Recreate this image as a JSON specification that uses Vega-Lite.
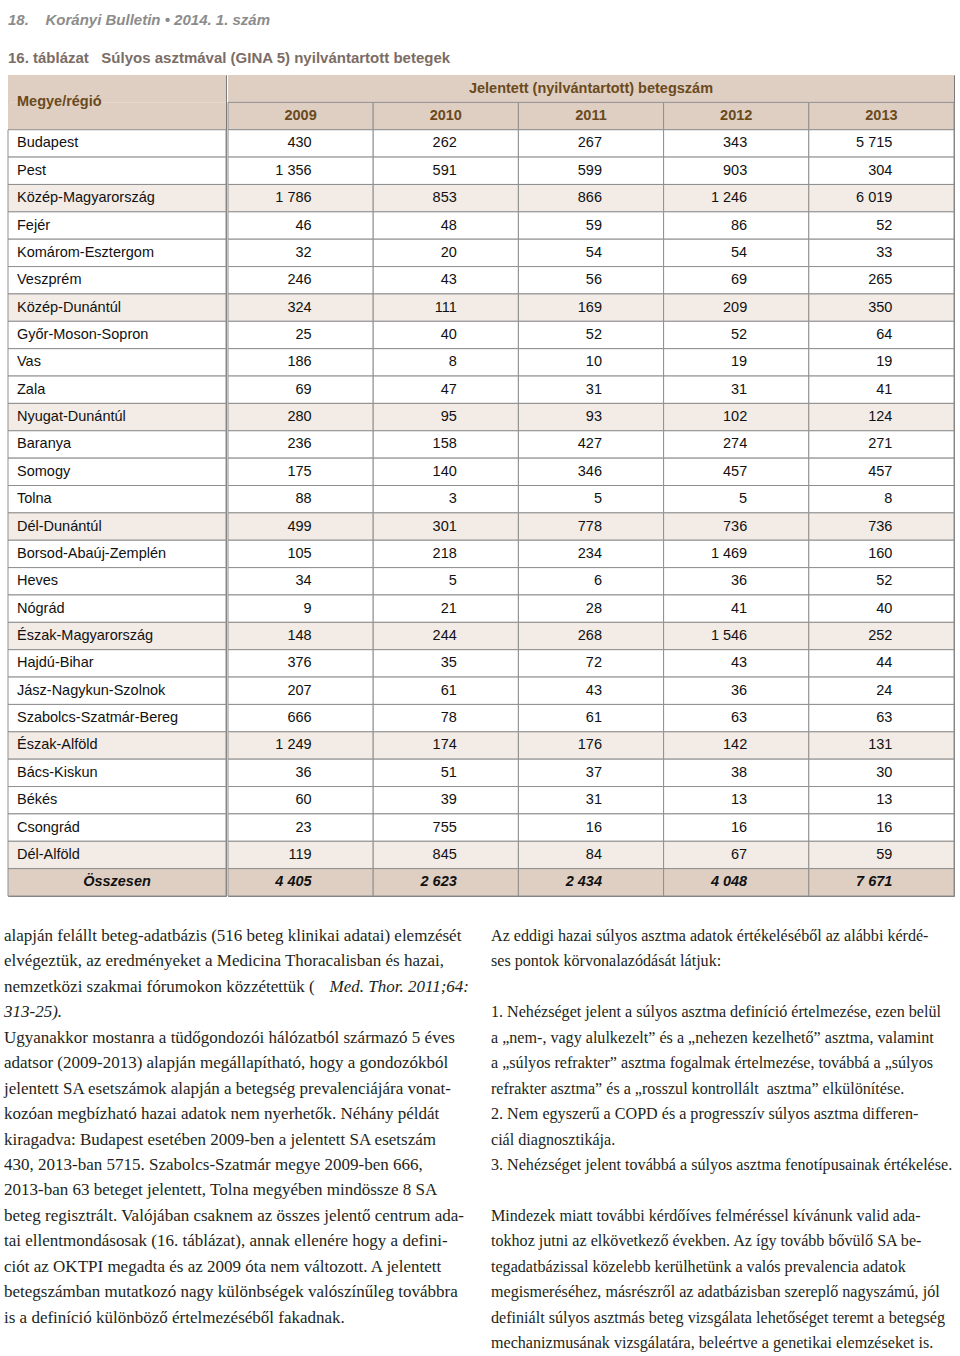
{
  "$schema": "https://vega.github.io/schema/vega-lite/v6.json",
  "autosize": "pad",
  "padding": {"left": 4, "top": 12, "right": 0, "bottom": 0},
  "background": "white",
  "title": {
    "text": "18.\u00a0\u00a0\u00a0\u00a0Korányi Bulletin • 2014. 1. szám",
    "subtitle": "16. táblázat\u00a0\u00a0\u00a0Súlyos asztmával (GINA 5) nyilvántartott betegek",
    "anchor": "start",
    "frame": "group",
    "font": "Liberation Sans",
    "fontSize": 15,
    "fontStyle": "italic",
    "fontWeight": "bold",
    "color": "#8c8c8c",
    "subtitleFont": "Liberation Sans",
    "subtitleFontSize": 15,
    "subtitleFontWeight": "bold",
    "subtitleColor": "#7b6d66",
    "subtitlePadding": 23,
    "offset": 9
  },
  "config": {
    "locale": {"number": {"decimal": ",", "thousands": " ", "grouping": [3], "currency": ["", ""]}},
    "view": {"stroke": "#7a7a7a", "strokeWidth": 1},
    "text": {"font": "Liberation Sans", "fontSize": 14.5, "color": "#111111", "baseline": "middle"}
  },
  "datasets": {
    "table": [
      {"row": "Budapest", "kind": "megye", "2009": 430, "2010": 262, "2011": 267, "2012": 343, "2013": 5715},
      {"row": "Pest", "kind": "megye", "2009": 1356, "2010": 591, "2011": 599, "2012": 903, "2013": 304},
      {"row": "Közép-Magyarország", "kind": "régió", "2009": 1786, "2010": 853, "2011": 866, "2012": 1246, "2013": 6019},
      {"row": "Fejér", "kind": "megye", "2009": 46, "2010": 48, "2011": 59, "2012": 86, "2013": 52},
      {"row": "Komárom-Esztergom", "kind": "megye", "2009": 32, "2010": 20, "2011": 54, "2012": 54, "2013": 33},
      {"row": "Veszprém", "kind": "megye", "2009": 246, "2010": 43, "2011": 56, "2012": 69, "2013": 265},
      {"row": "Közép-Dunántúl", "kind": "régió", "2009": 324, "2010": 111, "2011": 169, "2012": 209, "2013": 350},
      {"row": "Győr-Moson-Sopron", "kind": "megye", "2009": 25, "2010": 40, "2011": 52, "2012": 52, "2013": 64},
      {"row": "Vas", "kind": "megye", "2009": 186, "2010": 8, "2011": 10, "2012": 19, "2013": 19},
      {"row": "Zala", "kind": "megye", "2009": 69, "2010": 47, "2011": 31, "2012": 31, "2013": 41},
      {"row": "Nyugat-Dunántúl", "kind": "régió", "2009": 280, "2010": 95, "2011": 93, "2012": 102, "2013": 124},
      {"row": "Baranya", "kind": "megye", "2009": 236, "2010": 158, "2011": 427, "2012": 274, "2013": 271},
      {"row": "Somogy", "kind": "megye", "2009": 175, "2010": 140, "2011": 346, "2012": 457, "2013": 457},
      {"row": "Tolna", "kind": "megye", "2009": 88, "2010": 3, "2011": 5, "2012": 5, "2013": 8},
      {"row": "Dél-Dunántúl", "kind": "régió", "2009": 499, "2010": 301, "2011": 778, "2012": 736, "2013": 736},
      {"row": "Borsod-Abaúj-Zemplén", "kind": "megye", "2009": 105, "2010": 218, "2011": 234, "2012": 1469, "2013": 160},
      {"row": "Heves", "kind": "megye", "2009": 34, "2010": 5, "2011": 6, "2012": 36, "2013": 52},
      {"row": "Nógrád", "kind": "megye", "2009": 9, "2010": 21, "2011": 28, "2012": 41, "2013": 40},
      {"row": "Észak-Magyarország", "kind": "régió", "2009": 148, "2010": 244, "2011": 268, "2012": 1546, "2013": 252},
      {"row": "Hajdú-Bihar", "kind": "megye", "2009": 376, "2010": 35, "2011": 72, "2012": 43, "2013": 44},
      {"row": "Jász-Nagykun-Szolnok", "kind": "megye", "2009": 207, "2010": 61, "2011": 43, "2012": 36, "2013": 24},
      {"row": "Szabolcs-Szatmár-Bereg", "kind": "megye", "2009": 666, "2010": 78, "2011": 61, "2012": 63, "2013": 63},
      {"row": "Észak-Alföld", "kind": "régió", "2009": 1249, "2010": 174, "2011": 176, "2012": 142, "2013": 131},
      {"row": "Bács-Kiskun", "kind": "megye", "2009": 36, "2010": 51, "2011": 37, "2012": 38, "2013": 30},
      {"row": "Békés", "kind": "megye", "2009": 60, "2010": 39, "2011": 31, "2012": 13, "2013": 13},
      {"row": "Csongrád", "kind": "megye", "2009": 23, "2010": 755, "2011": 16, "2012": 16, "2013": 16},
      {"row": "Dél-Alföld", "kind": "régió", "2009": 119, "2010": 845, "2011": 84, "2012": 67, "2013": 59},
      {"row": "Összesen", "kind": "összesen", "2009": 4405, "2010": 2623, "2011": 2434, "2012": 4048, "2013": 7671}
    ],
    "lines": [
      {"col": "left", "line": 1, "part": "text", "text": "alapján felállt beteg-adatbázis (516 beteg klinikai adatai) elemzését"},
      {"col": "left", "line": 2, "part": "text", "text": "elvégeztük, az eredményeket a Medicina Thoracalisban és hazai,"},
      {"col": "left", "line": 3, "part": "text", "text": "nemzetközi szakmai fórumokon közzétettük ("},
      {"col": "left", "line": 3, "part": "citation-end", "text": "Med. Thor. 2011;64:"},
      {"col": "left", "line": 4, "part": "citation", "text": "313-25)."},
      {"col": "left", "line": 5, "part": "text", "text": "Ugyanakkor mostanra a tüdőgondozói hálózatból származó 5 éves"},
      {"col": "left", "line": 6, "part": "text", "text": "adatsor (2009-2013) alapján megállapítható, hogy a gondozókból"},
      {"col": "left", "line": 7, "part": "text", "text": "jelentett SA esetszámok alapján a betegség prevalenciájára vonat-"},
      {"col": "left", "line": 8, "part": "text", "text": "kozóan megbízható hazai adatok nem nyerhetők. Néhány példát"},
      {"col": "left", "line": 9, "part": "text", "text": "kiragadva: Budapest esetében 2009-ben a jelentett SA esetszám"},
      {"col": "left", "line": 10, "part": "text", "text": "430, 2013-ban 5715. Szabolcs-Szatmár megye 2009-ben 666,"},
      {"col": "left", "line": 11, "part": "text", "text": "2013-ban 63 beteget jelentett, Tolna megyében mindössze 8 SA"},
      {"col": "left", "line": 12, "part": "text", "text": "beteg regisztrált. Valójában csaknem az összes jelentő centrum ada-"},
      {"col": "left", "line": 13, "part": "text", "text": "tai ellentmondásosak (16. táblázat), annak ellenére hogy a defini-"},
      {"col": "left", "line": 14, "part": "text", "text": "ciót az OKTPI megadta és az 2009 óta nem változott. A jelentett"},
      {"col": "left", "line": 15, "part": "text", "text": "betegszámban mutatkozó nagy különbségek valószínűleg továbbra"},
      {"col": "left", "line": 16, "part": "text", "text": "is a definíció különböző értelmezéséből fakadnak."},
      {"col": "right", "line": 1, "part": "text", "text": "Az eddigi hazai súlyos asztma adatok értékeléséből az alábbi kérdé-"},
      {"col": "right", "line": 2, "part": "text", "text": "ses pontok körvonalazódását látjuk:"},
      {"col": "right", "line": 4, "part": "text", "text": "1. Nehézséget jelent a súlyos asztma definíció értelmezése, ezen belül"},
      {"col": "right", "line": 5, "part": "text", "text": "a „nem-, vagy alulkezelt” és a „nehezen kezelhető” asztma, valamint"},
      {"col": "right", "line": 6, "part": "text", "text": "a „súlyos refrakter” asztma fogalmak értelmezése, továbbá a „súlyos"},
      {"col": "right", "line": 7, "part": "text", "text": "refrakter asztma” és a „rosszul kontrollált\u00a0 asztma” elkülönítése."},
      {"col": "right", "line": 8, "part": "text", "text": "2. Nem egyszerű a COPD és a progresszív súlyos asztma differen-"},
      {"col": "right", "line": 9, "part": "text", "text": "ciál diagnosztikája."},
      {"col": "right", "line": 10, "part": "text", "text": "3. Nehézséget jelent továbbá a súlyos asztma fenotípusainak értékelése."},
      {"col": "right", "line": 12, "part": "text", "text": "Mindezek miatt további kérdőíves felméréssel kívánunk valid ada-"},
      {"col": "right", "line": 13, "part": "text", "text": "tokhoz jutni az elkövetkező években. Az így tovább bővülő SA be-"},
      {"col": "right", "line": 14, "part": "text", "text": "tegadatbázissal közelebb kerülhetünk a valós prevalencia adatok"},
      {"col": "right", "line": 15, "part": "text", "text": "megismeréséhez, másrészről az adatbázisban szereplő nagyszámú, jól"},
      {"col": "right", "line": 16, "part": "text", "text": "definiált súlyos asztmás beteg vizsgálata lehetőséget teremt a betegség"},
      {"col": "right", "line": 17, "part": "text", "text": "mechanizmusának vizsgálatára, beleértve a genetikai elemzéseket is."}
    ]
  },
  "spacing": 26,
  "vconcat": [
    {
      "spacing": 0,
      "hconcat": [
        {
          "width": 218,
          "height": 821,
          "layer": [
            {
              "data": {"values": [{"row": "_h1"}, {"row": "_h2"}]},
              "mark": {"type": "rect", "fill": "#dfcfc3"},
              "encoding": {
                "y": {"field": "row", "type": "nominal", "axis": null, "scale": {"type": "band", "domain": ["_h1", "_h2", "Budapest", "Pest", "Közép-Magyarország", "Fejér", "Komárom-Esztergom", "Veszprém", "Közép-Dunántúl", "Győr-Moson-Sopron", "Vas", "Zala", "Nyugat-Dunántúl", "Baranya", "Somogy", "Tolna", "Dél-Dunántúl", "Borsod-Abaúj-Zemplén", "Heves", "Nógrád", "Észak-Magyarország", "Hajdú-Bihar", "Jász-Nagykun-Szolnok", "Szabolcs-Szatmár-Bereg", "Észak-Alföld", "Bács-Kiskun", "Békés", "Csongrád", "Dél-Alföld", "Összesen"], "paddingInner": 0, "paddingOuter": 0}}
              }
            },
            {
              "data": {"values": [{"row": "_h2", "label": "Megye/régió"}]},
              "mark": {"type": "text", "align": "left", "x": 9, "fontWeight": "bold", "color": "#6a4a1c"},
              "encoding": {
                "y": {"field": "row", "type": "nominal", "axis": null, "bandPosition": 0, "scale": {"type": "band", "domain": ["_h1", "_h2", "Budapest", "Pest", "Közép-Magyarország", "Fejér", "Komárom-Esztergom", "Veszprém", "Közép-Dunántúl", "Győr-Moson-Sopron", "Vas", "Zala", "Nyugat-Dunántúl", "Baranya", "Somogy", "Tolna", "Dél-Dunántúl", "Borsod-Abaúj-Zemplén", "Heves", "Nógrád", "Észak-Magyarország", "Hajdú-Bihar", "Jász-Nagykun-Szolnok", "Szabolcs-Szatmár-Bereg", "Észak-Alföld", "Bács-Kiskun", "Békés", "Csongrád", "Dél-Alföld", "Összesen"], "paddingInner": 0, "paddingOuter": 0}},
                "text": {"field": "label"}
              }
            },
            {
              "data": {"name": "table"},
              "mark": {"type": "rect", "stroke": "#8f8f8f", "strokeWidth": 1},
              "encoding": {
                "y": {"field": "row", "type": "nominal", "axis": null, "scale": {"type": "band", "domain": ["_h1", "_h2", "Budapest", "Pest", "Közép-Magyarország", "Fejér", "Komárom-Esztergom", "Veszprém", "Közép-Dunántúl", "Győr-Moson-Sopron", "Vas", "Zala", "Nyugat-Dunántúl", "Baranya", "Somogy", "Tolna", "Dél-Dunántúl", "Borsod-Abaúj-Zemplén", "Heves", "Nógrád", "Észak-Magyarország", "Hajdú-Bihar", "Jász-Nagykun-Szolnok", "Szabolcs-Szatmár-Bereg", "Észak-Alföld", "Bács-Kiskun", "Békés", "Csongrád", "Dél-Alföld", "Összesen"], "paddingInner": 0, "paddingOuter": 0}},
                "fill": {"field": "kind", "type": "nominal", "legend": null, "scale": {"domain": ["megye", "régió", "összesen"], "range": ["#ffffff", "#f3ebe6", "#dfcfc3"]}}
              }
            },
            {
              "data": {"name": "table"},
              "transform": [{"filter": "datum.kind !== 'összesen'"}],
              "mark": {"type": "text", "align": "left", "x": 9},
              "encoding": {
                "y": {"field": "row", "type": "nominal", "axis": null, "scale": {"type": "band", "domain": ["_h1", "_h2", "Budapest", "Pest", "Közép-Magyarország", "Fejér", "Komárom-Esztergom", "Veszprém", "Közép-Dunántúl", "Győr-Moson-Sopron", "Vas", "Zala", "Nyugat-Dunántúl", "Baranya", "Somogy", "Tolna", "Dél-Dunántúl", "Borsod-Abaúj-Zemplén", "Heves", "Nógrád", "Észak-Magyarország", "Hajdú-Bihar", "Jász-Nagykun-Szolnok", "Szabolcs-Szatmár-Bereg", "Észak-Alföld", "Bács-Kiskun", "Békés", "Csongrád", "Dél-Alföld", "Összesen"], "paddingInner": 0, "paddingOuter": 0}},
                "text": {"field": "row"}
              }
            },
            {
              "data": {"name": "table"},
              "transform": [{"filter": "datum.kind === 'összesen'"}],
              "mark": {"type": "text", "align": "center", "fontWeight": "bold", "fontStyle": "italic"},
              "encoding": {
                "y": {"field": "row", "type": "nominal", "axis": null, "scale": {"type": "band", "domain": ["_h1", "_h2", "Budapest", "Pest", "Közép-Magyarország", "Fejér", "Komárom-Esztergom", "Veszprém", "Közép-Dunántúl", "Győr-Moson-Sopron", "Vas", "Zala", "Nyugat-Dunántúl", "Baranya", "Somogy", "Tolna", "Dél-Dunántúl", "Borsod-Abaúj-Zemplén", "Heves", "Nógrád", "Észak-Magyarország", "Hajdú-Bihar", "Jász-Nagykun-Szolnok", "Szabolcs-Szatmár-Bereg", "Észak-Alföld", "Bács-Kiskun", "Békés", "Csongrád", "Dél-Alföld", "Összesen"], "paddingInner": 0, "paddingOuter": 0}},
                "text": {"field": "row"}
              }
            }
          ]
        },
        {
          "width": 726,
          "height": 821,
          "layer": [
            {
              "data": {"values": [{"row": "_h1"}]},
              "mark": {"type": "rect", "fill": "#dfcfc3"},
              "encoding": {
                "y": {"field": "row", "type": "nominal", "axis": null, "scale": {"type": "band", "domain": ["_h1", "_h2", "Budapest", "Pest", "Közép-Magyarország", "Fejér", "Komárom-Esztergom", "Veszprém", "Közép-Dunántúl", "Győr-Moson-Sopron", "Vas", "Zala", "Nyugat-Dunántúl", "Baranya", "Somogy", "Tolna", "Dél-Dunántúl", "Borsod-Abaúj-Zemplén", "Heves", "Nógrád", "Észak-Magyarország", "Hajdú-Bihar", "Jász-Nagykun-Szolnok", "Szabolcs-Szatmár-Bereg", "Észak-Alföld", "Bács-Kiskun", "Békés", "Csongrád", "Dél-Alföld", "Összesen"], "paddingInner": 0, "paddingOuter": 0}}
              }
            },
            {
              "data": {"values": [{"row": "_h1", "year": "2011", "label": "Jelentett (nyilvántartott) betegszám"}]},
              "mark": {"type": "text", "align": "center", "fontWeight": "bold", "color": "#6a4a1c"},
              "encoding": {
                "x": {"field": "year", "type": "nominal", "axis": null, "scale": {"type": "band", "domain": ["2009", "2010", "2011", "2012", "2013"], "paddingInner": 0, "paddingOuter": 0}},
                "y": {"field": "row", "type": "nominal", "axis": null, "scale": {"type": "band", "domain": ["_h1", "_h2", "Budapest", "Pest", "Közép-Magyarország", "Fejér", "Komárom-Esztergom", "Veszprém", "Közép-Dunántúl", "Győr-Moson-Sopron", "Vas", "Zala", "Nyugat-Dunántúl", "Baranya", "Somogy", "Tolna", "Dél-Dunántúl", "Borsod-Abaúj-Zemplén", "Heves", "Nógrád", "Észak-Magyarország", "Hajdú-Bihar", "Jász-Nagykun-Szolnok", "Szabolcs-Szatmár-Bereg", "Észak-Alföld", "Bács-Kiskun", "Békés", "Csongrád", "Dél-Alföld", "Összesen"], "paddingInner": 0, "paddingOuter": 0}},
                "text": {"field": "label"}
              }
            },
            {
              "data": {"values": [{"row": "_h2", "year": "2009"}, {"row": "_h2", "year": "2010"}, {"row": "_h2", "year": "2011"}, {"row": "_h2", "year": "2012"}, {"row": "_h2", "year": "2013"}]},
              "layer": [
                {"mark": {"type": "rect", "fill": "#dfcfc3", "stroke": "#8f8f8f", "strokeWidth": 1}},
                {"mark": {"type": "text", "align": "center", "fontWeight": "bold", "color": "#6a4a1c"}, "encoding": {"text": {"field": "year"}}}
              ],
              "encoding": {
                "x": {"field": "year", "type": "nominal", "axis": null, "scale": {"type": "band", "domain": ["2009", "2010", "2011", "2012", "2013"], "paddingInner": 0, "paddingOuter": 0}},
                "y": {"field": "row", "type": "nominal", "axis": null, "scale": {"type": "band", "domain": ["_h1", "_h2", "Budapest", "Pest", "Közép-Magyarország", "Fejér", "Komárom-Esztergom", "Veszprém", "Közép-Dunántúl", "Győr-Moson-Sopron", "Vas", "Zala", "Nyugat-Dunántúl", "Baranya", "Somogy", "Tolna", "Dél-Dunántúl", "Borsod-Abaúj-Zemplén", "Heves", "Nógrád", "Észak-Magyarország", "Hajdú-Bihar", "Jász-Nagykun-Szolnok", "Szabolcs-Szatmár-Bereg", "Észak-Alföld", "Bács-Kiskun", "Békés", "Csongrád", "Dél-Alföld", "Összesen"], "paddingInner": 0, "paddingOuter": 0}}
              }
            },
            {
              "data": {"name": "table"},
              "transform": [{"fold": ["2009", "2010", "2011", "2012", "2013"], "as": ["year", "count"]}],
              "encoding": {
                "x": {"field": "year", "type": "nominal", "axis": null, "scale": {"type": "band", "domain": ["2009", "2010", "2011", "2012", "2013"], "paddingInner": 0, "paddingOuter": 0}},
                "y": {"field": "row", "type": "nominal", "axis": null, "scale": {"type": "band", "domain": ["_h1", "_h2", "Budapest", "Pest", "Közép-Magyarország", "Fejér", "Komárom-Esztergom", "Veszprém", "Közép-Dunántúl", "Győr-Moson-Sopron", "Vas", "Zala", "Nyugat-Dunántúl", "Baranya", "Somogy", "Tolna", "Dél-Dunántúl", "Borsod-Abaúj-Zemplén", "Heves", "Nógrád", "Észak-Magyarország", "Hajdú-Bihar", "Jász-Nagykun-Szolnok", "Szabolcs-Szatmár-Bereg", "Észak-Alföld", "Bács-Kiskun", "Békés", "Csongrád", "Dél-Alföld", "Összesen"], "paddingInner": 0, "paddingOuter": 0}}
              },
              "layer": [
                {
                  "mark": {"type": "rect", "stroke": "#8f8f8f", "strokeWidth": 1},
                  "encoding": {"fill": {"field": "kind", "type": "nominal", "legend": null, "scale": {"domain": ["megye", "régió", "összesen"], "range": ["#ffffff", "#f3ebe6", "#dfcfc3"]}}}
                },
                {
                  "transform": [{"filter": "datum.kind !== 'összesen'"}],
                  "mark": {"type": "text", "align": "right", "dx": 11},
                  "encoding": {"text": {"field": "count", "type": "quantitative", "format": ",d"}}
                },
                {
                  "transform": [{"filter": "datum.kind === 'összesen'"}],
                  "mark": {"type": "text", "align": "right", "dx": 11, "fontWeight": "bold", "fontStyle": "italic"},
                  "encoding": {"text": {"field": "count", "type": "quantitative", "format": ",d"}}
                }
              ]
            }
          ]
        }
      ]
    },
    {
      "width": 952,
      "height": 433,
      "view": {"stroke": null},
      "data": {"name": "lines"},
      "encoding": {
        "x": {"field": "col", "type": "nominal", "axis": null, "bandPosition": 0, "scale": {"type": "band", "domain": ["left", "right"], "paddingInner": 0.0452, "paddingOuter": 0}},
        "y": {"field": "line", "type": "ordinal", "axis": null, "scale": {"type": "band", "domain": [1, 2, 3, 4, 5, 6, 7, 8, 9, 10, 11, 12, 13, 14, 15, 16, 17], "paddingInner": 0, "paddingOuter": 0}},
        "text": {"field": "text"}
      },
      "layer": [
        {
          "transform": [{"filter": "datum.part === 'text' && datum.col === 'left'"}],
          "mark": {"type": "text", "align": "left", "dx": -4, "font": "Liberation Serif", "fontSize": 17, "color": "#231f20"}
        },
        {
          "transform": [{"filter": "datum.part === 'text' && datum.col === 'right'"}],
          "mark": {"type": "text", "align": "left", "dx": -4, "font": "Liberation Serif", "fontSize": 16.1, "color": "#231f20"}
        },
        {
          "transform": [{"filter": "datum.part === 'citation'"}],
          "mark": {"type": "text", "align": "left", "dx": -4, "font": "Liberation Serif", "fontSize": 17, "fontStyle": "italic", "color": "#231f20"}
        },
        {
          "transform": [{"filter": "datum.part === 'citation-end'"}],
          "mark": {"type": "text", "align": "right", "dx": -4, "font": "Liberation Serif", "fontSize": 17, "fontStyle": "italic", "color": "#231f20"},
          "encoding": {
            "x": {"field": "col", "type": "nominal", "axis": null, "bandPosition": 1, "scale": {"type": "band", "domain": ["left", "right"], "paddingInner": 0.0452, "paddingOuter": 0}}
          }
        }
      ]
    }
  ]
}
